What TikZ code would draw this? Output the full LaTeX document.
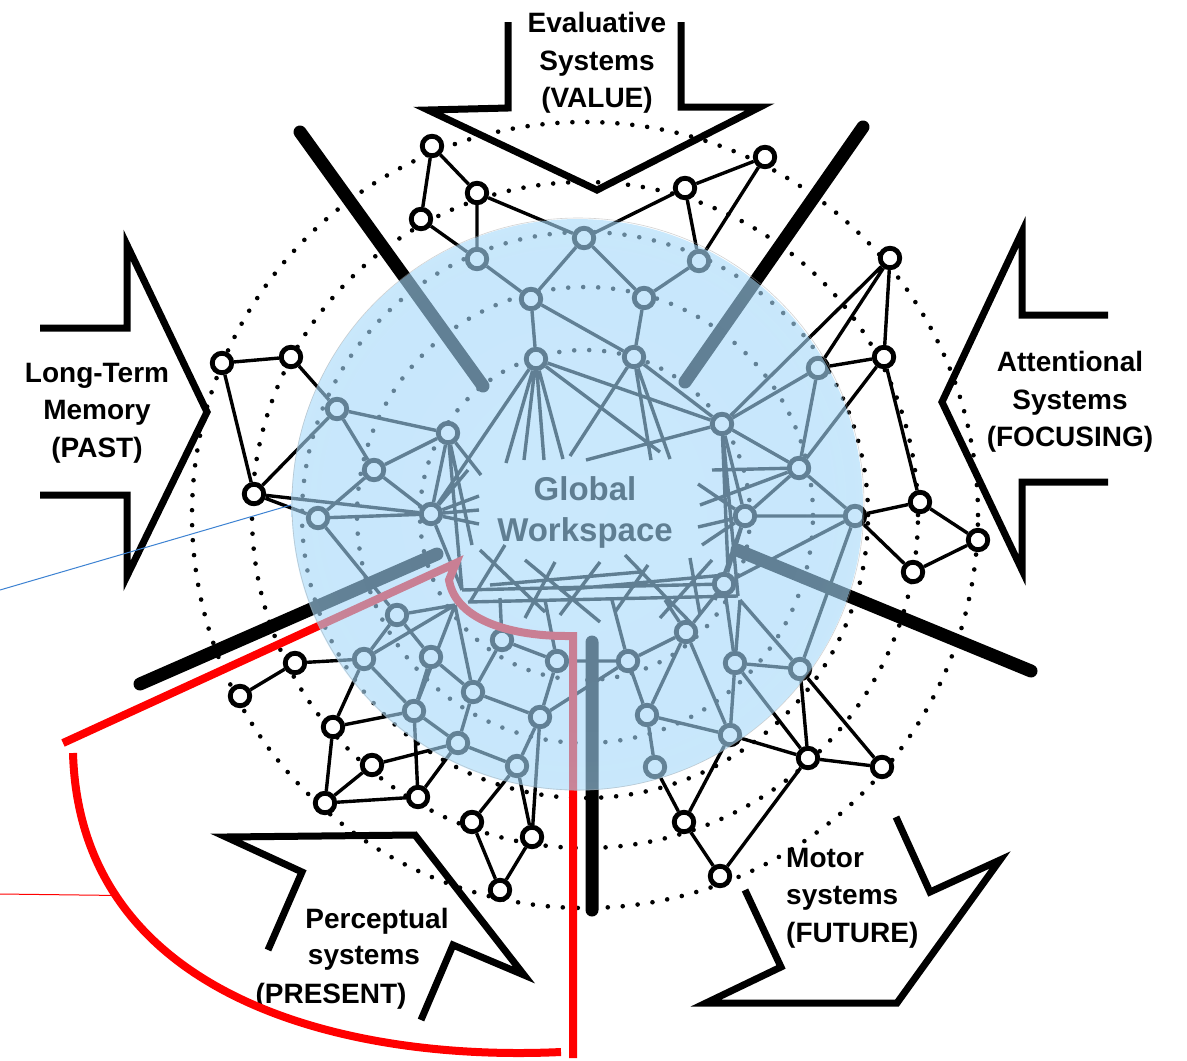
\documentclass[tikz,border=0pt]{standalone}
\usepackage{fontspec}
\setmainfont{Liberation Sans}
\usetikzlibrary{fadings}

\definecolor{discin}{RGB}{164,216,250}
\definecolor{discout}{RGB}{194,232,255}
\definecolor{thinblue}{RGB}{60,130,210}
% colour of the workspace disc, a little lighter towards the rim
\pgfdeclareradialshading{discshade}{\pgfpoint{0bp}{0bp}}{color(0bp)=(discin); color(22bp)=(discin); color(50bp)=(discout); color(72bp)=(discout)}
% opacity of the disc: more see-through in the middle, denser at the rim
\pgfdeclareradialshading{discalpha}{\pgfpoint{0bp}{0bp}}{color(0bp)=(black!42); color(22bp)=(black!40); color(40bp)=(black!32); color(50bp)=(black!20); color(72bp)=(black!20)}
\pgfdeclarefading{discfade}{\pgfuseshading{discalpha}}

\begin{document}
\begin{tikzpicture}[x=1pt,y=-1pt,
  link/.style={line width=3.4pt},
  nd/.style={circle,draw,fill=white,line width=3.4pt,minimum size=21pt,inner sep=0pt},
  dotring/.style={line width=4.6pt,line cap=round,dash pattern=on 0pt off 15pt},
  spoke/.style={line width=13pt,line cap=round},
  blockarrow/.style={line width=7pt,line join=miter,miter limit=10},
  lbl/.style={font=\bfseries\fontsize{28}{37.5}\selectfont,align=center,inner sep=0pt},
  lineword/.style={font=\bfseries\fontsize{28}{37.5}\selectfont,inner sep=0pt,anchor=base},
  redline/.style={draw=red,line width=8pt},
]
\useasboundingbox (0,0) rectangle (1187,1061);
\fill[white] (0,0) rectangle (1187,1061);

% concentric dotted rings
\foreach \r in {393,333,283,228,165}
  \draw[dotring] (585,515) circle (\r pt);

% ---------- network nodes ----------
% outer, upper
\node[nd] (a1) at (432,146) {};
\node[nd] (a2) at (477,193) {};
\node[nd] (a3) at (421,219) {};
\node[nd] (a4) at (765,157) {};
\node[nd] (a5) at (685,188) {};
% outer, right
\node[nd] (b1) at (890,258) {};
\node[nd] (b2) at (884,357) {};
\node[nd] (b3) at (920,502) {};
\node[nd] (b4) at (978,540) {};
\node[nd] (b5) at (913,572) {};
% outer, lower right
\node[nd] (c1) at (882,767) {};
\node[nd] (c2) at (808,758) {};
\node[nd] (c3) at (684,822) {};
\node[nd] (c4) at (720,876) {};
% outer, lower left
\node[nd] (d1) at (240,696) {};
\node[nd] (d2) at (295,663) {};
\node[nd] (d3) at (333,727) {};
\node[nd] (d4) at (372,765) {};
\node[nd] (d5) at (325,803) {};
\node[nd] (d6) at (418,797) {};
\node[nd] (d7) at (472,822) {};
\node[nd] (d8) at (532,837) {};
\node[nd] (d9) at (500,890) {};
% outer, left
\node[nd] (l1) at (222,363) {};
\node[nd] (l2) at (291,357) {};
\node[nd] (l3) at (254,494) {};
% inner, top
\node[nd] (t1) at (584,238) {};
\node[nd] (t2) at (477,259) {};
\node[nd] (t3) at (699,261) {};
\node[nd] (t4) at (531,299) {};
\node[nd] (t5) at (644,298) {};
\node[nd] (t6) at (536,359) {};
\node[nd] (t7) at (634,357) {};
% inner, west
\node[nd] (w1) at (337,409) {};
\node[nd] (w2) at (448,433) {};
\node[nd] (w3) at (374,470) {};
\node[nd] (w4) at (318,518) {};
\node[nd] (w5) at (431,514) {};
% inner, east
\node[nd] (e1) at (818,368) {};
\node[nd] (e2) at (722,424) {};
\node[nd] (e3) at (799,468) {};
\node[nd] (e4) at (745,516) {};
\node[nd] (e5) at (855,516) {};
% inner, south-east
\node[nd] (s1) at (724,584) {};
\node[nd] (s2) at (686,632) {};
\node[nd] (s3) at (735,663) {};
\node[nd] (s4) at (800,669) {};
\node[nd] (s5) at (647,715) {};
\node[nd] (s6) at (730,735) {};
\node[nd] (s7) at (655,767) {};
% inner, south-west
\node[nd] (p1) at (397,615) {};
\node[nd] (p2) at (364,659) {};
\node[nd] (p3) at (431,657) {};
\node[nd] (p4) at (502,640) {};
\node[nd] (p5) at (557,661) {};
\node[nd] (p6) at (628,661) {};
\node[nd] (p7) at (473,692) {};
\node[nd] (p8) at (414,711) {};
\node[nd] (p9) at (540,717) {};
\node[nd] (p10) at (458,743) {};
\node[nd] (p11) at (517,766) {};

% free ends of the short links around the workspace core
\coordinate (f1) at (506,463); \coordinate (f2) at (524,460);
\coordinate (f3) at (544,460); \coordinate (f4) at (563,459);
\coordinate (f5) at (586,460); \coordinate (f6) at (570,456);
\coordinate (f7) at (651,460); \coordinate (f8) at (670,459);
\coordinate (f9) at (660,452);
\coordinate (h0) at (481,475); \coordinate (h1) at (479,496);
\coordinate (h2) at (479,510); \coordinate (h3) at (479,524);
\coordinate (h4) at (472,545); \coordinate (h5) at (468,470);
\coordinate (m1) at (462,590); \coordinate (m2) at (468,602);
\coordinate (m3) at (738,596); \coordinate (m5) at (715,600);
\coordinate (r1) at (698,484); \coordinate (r2) at (698,527);
\coordinate (r3) at (702,545); \coordinate (r4) at (728,570);
\coordinate (r5) at (700,505); \coordinate (r6) at (712,470);
\coordinate (q1) at (455,605); \coordinate (q2) at (500,598);
\coordinate (q3) at (545,600); \coordinate (q4) at (612,600);
\coordinate (q5) at (665,600); \coordinate (q6) at (740,600);
\coordinate (x1a) at (480,550); \coordinate (x1b) at (545,612);
\coordinate (x2a) at (505,545); \coordinate (x2b) at (470,602);
\coordinate (x3a) at (525,560); \coordinate (x3b) at (600,622);
\coordinate (x4a) at (555,562); \coordinate (x4b) at (525,618);
\coordinate (x5a) at (600,562); \coordinate (x5b) at (560,615);
\coordinate (x6a) at (625,555); \coordinate (x6b) at (690,622);
\coordinate (x7a) at (648,565); \coordinate (x7b) at (615,612);
\coordinate (x8a) at (690,558); \coordinate (x8b) at (700,615);
\coordinate (x9a) at (712,560); \coordinate (x9b) at (660,618);
\coordinate (y1a) at (490,585); \coordinate (y1b) at (640,572);
\coordinate (y2a) at (560,590); \coordinate (y2b) at (725,575);

% ---------- network links ----------
\draw[link]
 (a1)--(a2) (a1)--(a3) (a3)--(t2) (a2)--(t2) (a2)--(t1) (a5)--(t1)
 (a5)--(t3) (a4)--(t3) (a4)--(a5)
 (b1)--(b2) (b1)--(e1) (b1)--(e2) (b2)--(e1) (b2)--(e3) (b2)--(b3)
 (b3)--(b4) (b4)--(b5) (b3)--(e5) (b5)--(e5)
 (c1)--(c2) (c1)--(s4) (c2)--(s4) (c2)--(s3) (c2)--(s6) (c2)--(c4)
 (c3)--(c4) (c3)--(s7) (c3)--(s6)
 (d1)--(d2) (d2)--(p2) (d3)--(d5) (d3)--(p2) (d3)--(p8) (d4)--(d5)
 (d4)--(p10) (d5)--(d6) (d6)--(p8) (d6)--(p10) (d7)--(d9) (d7)--(p11)
 (d8)--(d9) (d8)--(p11) (d8)--(p9)
 (l1)--(l2) (l1)--(l3) (l2)--(w1) (l3)--(w1) (l3)--(w4) (l3)--(w5)
 (t1)--(t4) (t1)--(t5) (t2)--(t4) (t3)--(t5) (t4)--(t6) (t5)--(t7) (t4)--(t7)
 (w1)--(w2) (w1)--(w3) (w3)--(w2) (w3)--(w4) (w3)--(w5) (w4)--(w5)
 (w2)--(w5) (w4)--(p1) (t6)--(w5)
 (e1)--(e2) (e1)--(e3) (e2)--(e3) (e2)--(e4) (e3)--(e4) (e3)--(e5)
 (e4)--(e5) (t7)--(e2) (t6)--(e2)
 (s1)--(s2) (s1)--(s3) (s1)--(e4) (s1)--(e5) (s2)--(s5) (s2)--(s6)
 (s2)--(p6) (s3)--(s4) (s3)--(s6) (s5)--(s6) (s5)--(s7) (s4)--(e5)
 (p1)--(p2) (p1)--(p3) (p2)--(p8) (p3)--(p7) (p3)--(p8) (p4)--(p5)
 (p4)--(p7) (p5)--(p9) (p6)--(p9) (p7)--(p9) (p7)--(p10) (p8)--(p10)
 (p9)--(p11) (p10)--(p11) (p6)--(s5) (p5)--(p6);

% dense core around the workspace
\draw[link]
 (t6)--(f1) (t6)--(f2) (t6)--(f3) (t6)--(f4) (t6)--(f9) (f5)--(e2)
 (t7)--(f6) (t7)--(f7) (t7)--(f8)
 (w2)--(h0) (w5)--(h1) (w5)--(h2) (w5)--(h3) (w2)--(h4) (w5)--(h5)
 (w2)--(m1) (w5)--(m1) (m1)--(s1) (m2)--(m3) (e2)--(m3) (e4)--(m5)
 (e4)--(r1) (e4)--(r2) (e4)--(r3) (e2)--(r4) (e3)--(r5) (e3)--(r6)
 (q1)--(p1) (q1)--(p2) (q1)--(p8) (q1)--(p7)
 (p4)--(q2) (p5)--(q3) (p6)--(q4) (s2)--(q5)
 (q6)--(s3) (q6)--(s4)
 (x1a)--(x1b) (x2a)--(x2b) (x3a)--(x3b) (x4a)--(x4b) (x5a)--(x5b)
 (x6a)--(x6b) (x7a)--(x7b) (x8a)--(x8b) (x9a)--(x9b)
 (y1a)--(y1b) (y2a)--(y2b);

% redraw the node rims over the links
\foreach \n in {a1,a2,a3,a4,a5,b1,b2,b3,b4,b5,c1,c2,c3,c4,d1,d2,d3,d4,d5,d6,d7,d8,d9,
  l1,l2,l3,t1,t2,t3,t4,t5,t6,t7,w1,w2,w3,w4,w5,e1,e2,e3,e4,e5,
  s1,s2,s3,s4,s5,s6,s7,p1,p2,p3,p4,p5,p6,p7,p8,p9,p10,p11}
  \draw[line width=3.4pt,fill=white] (\n) circle (9pt);

% ---------- spokes between the input/output channels ----------
\coordinate (k1o) at (300,132); \coordinate (k1i) at (483,386);
\coordinate (k2o) at (863,127); \coordinate (k2i) at (685,382);
\coordinate (k3o) at (140,684); \coordinate (k3i) at (437,554);
\coordinate (k4o) at (1031,671); \coordinate (k4i) at (737,550);
\coordinate (k5o) at (592,910); \coordinate (k5i) at (592,642);
\draw[spoke] (k1o)--(k1i) (k2o)--(k2i) (k3o)--(k3i) (k4o)--(k4i) (k5o)--(k5i);

% ---------- block arrows ----------
\draw[blockarrow] (508,22) -- (508,108) -- (428,110) -- (597,190) -- (760,107) -- (681,107) -- (681,22);
\draw[blockarrow] (40,328) -- (127,328) -- (127,245) -- (207,412) -- (127,576) -- (127,495) -- (40,495);
\draw[blockarrow] (1108,315) -- (1022,315) -- (1022,232) -- (942,402) -- (1022,570) -- (1022,482) -- (1108,482);
\draw[blockarrow] (268,950) -- (302,872) -- (226,837) -- (415,835) -- (524,975) -- (453,945) -- (421,1020);
\draw[blockarrow] (896,817) -- (930,892) -- (1000,860) -- (897,1003) -- (706,1003) -- (781,967) -- (745,890);

\node[lbl] (value) at (597,63) {Evaluative\\Systems\\(VALUE)};
\node[lbl] (past) at (97,413) {Long-Term\\Memory\\(PAST)};
\node[lbl] (focus) at (1070,402) {Attentional\\Systems\\(FOCUSING)};
\node[lbl,align=left,anchor=west] (future) at (786,898) {Motor\\systems\\(FUTURE)};
\node[lineword] (pres1) at (377,928) {Perceptual};
\node[lineword] (pres2) at (364,964) {systems};
\node[lineword] (pres3) at (331,1003) {(PRESENT)};

% ---------- red outline and thin guide lines ----------
\draw[redline,line join=miter] (63,743) -- (456,563) -- (449,580)
  .. controls (456,622) and (515,636) .. (566,636) -- (573,636) -- (573,1058);
\draw[redline] (73,753) .. controls (80,1000) and (350,1062) .. (561,1052)
  coordinate[pos=0.23] (rj);
\coordinate (rl) at (0,894);
\draw[red,line width=1pt] (rl) -- (rj);
\coordinate (bl0) at (0,590);
\coordinate (bl1) at (291,505);
\draw[thinblue,line width=1pt] (bl0) -- (bl1);

% ---------- workspace label and translucent disc ----------
\node[font=\bfseries\fontsize{33}{41}\selectfont,align=center,inner sep=0pt] (gw) at (585,512) {Global\\Workspace};
\shade[shading=discshade,path fading=discfade] (578,504) circle (286pt);
\draw[gray!70,line width=0.6pt,opacity=0.5] (578,504) circle (286pt);
\end{tikzpicture}
\end{document}
